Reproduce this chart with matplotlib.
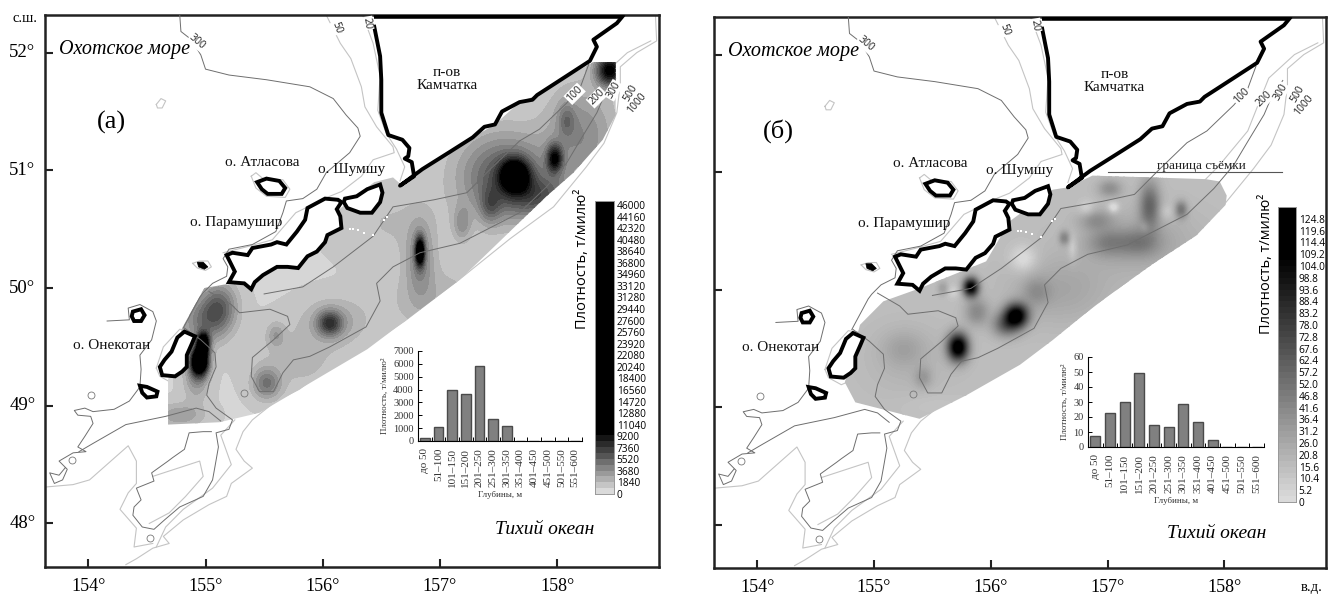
import numpy as np
import matplotlib
matplotlib.use("Agg")
import matplotlib.pyplot as plt
from matplotlib.colors import LinearSegmentedColormap
from matplotlib.patches import Polygon

W, H = 1328, 594
SERIF = "Liberation Serif"
SANS = "Open Sans"

# histograms
depth_bins = ["до 50", "51–100", "101–150", "151–200", "201–250", "251–300",
              "301–350", "351–400", "401–450", "451–500", "501–550", "551–600"]
density_a = [250, 1080, 4000, 3620, 5800, 1700, 1200, 0, 0, 0, 0, 0]
density_b = [7.3, 23, 30, 49.5, 15, 13.5, 28.7, 16.5, 4.5, 0, 0, 0]

# colour bar labels
levels_a = [0, 1840, 3680, 5520, 7360, 9200, 11040, 12880, 14720, 16560, 18400, 20240, 22080,
            23920, 25760, 27600, 29440, 31280, 33120, 34960, 36800, 38640, 40480, 42320, 44160, 46000]
levels_b = ["0", "5.2", "10.4", "15.6", "20.8", "26.0", "31.2", "36.4", "41.6", "46.8", "52.0", "57.2",
            "62.4", "67.6", "72.8", "78.0", "83.2", "88.4", "93.6", "98.8", "104.0", "109.2",
            "114.4", "119.6", "124.8"]

# density hot spots: lon, lat, value, spread lon, spread lat
spots_a = [
    (157.64, 50.96, 9500, 0.08, 0.09), (157.55, 50.95, 5000, 0.26, 0.24),
    (157.98, 51.10, 7000, 0.045, 0.08), (157.85, 50.78, 3500, 0.22, 0.12),
    (158.45, 51.85, 9000, 0.08, 0.09), (158.08, 51.43, 2200, 0.05, 0.10),
    (158.20, 51.30, 2800, 0.20, 0.28), (156.83, 50.31, 10000, 0.025, 0.08),
    (156.83, 50.25, 2800, 0.08, 0.22), (156.06, 49.70, 5000, 0.07, 0.07),
    (156.10, 49.72, 1800, 0.18, 0.13), (154.95, 49.38, 14000, 0.05, 0.08),
    (154.98, 49.53, 11000, 0.035, 0.06), (154.92, 49.25, 2500, 0.07, 0.14),
    (155.12, 49.84, 4000, 0.10, 0.14), (154.98, 49.72, 3200, 0.13, 0.14),
    (155.52, 49.19, 3500, 0.08, 0.09), (155.60, 49.60, 1800, 0.05, 0.07),
    (157.43, 50.69, 2500, 0.06, 0.10), (157.19, 50.55, 2200, 0.05, 0.10),
    (156.60, 50.55, 800, 0.30, 0.20), (154.78, 48.92, 2000, 0.14, 0.07),
    (155.80, 49.40, 1000, 0.25, 0.20), (156.95, 49.90, 1200, 0.30, 0.20),
]
base_a = 650
spots_b = [
    (155.72, 49.51, 105, 0.06, 0.08), (156.22, 49.78, 95, 0.07, 0.07), (155.83, 50.02, 95, 0.045, 0.055),
    (157.36, 50.72, 40, 0.06, 0.14), (157.63, 50.68, 32, 0.035, 0.05), (156.63, 50.44, 25, 0.03, 0.04),
    (156.13, 49.70, 40, 0.08, 0.07), (155.88, 49.81, 25, 0.07, 0.08), (157.02, 50.86, 22, 0.07, 0.05),
    (156.90, 50.59, 20, 0.10, 0.06), (157.00, 50.40, 22, 0.12, 0.08), (157.27, 50.40, 22, 0.12, 0.08),
    (155.59, 50.01, 15, 0.03, 0.04), (155.25, 49.50, 10, 0.12, 0.10), (155.42, 49.25, 15, 0.05, 0.06),
    (156.39, 49.98, 16, 0.08, 0.08), (157.05, 50.70, -22, 0.035, 0.035), (156.28, 50.26, -18, 0.08, 0.08),
    (156.82, 50.69, -12, 0.05, 0.05), (156.70, 50.35, -12, 0.03, 0.08), (157.50, 50.66, -10, 0.05, 0.05),
    (157.32, 50.53, -10, 0.03, 0.04), (155.68, 49.98, -10, 0.04, 0.04), (155.50, 49.02, -3, 0.20, 0.08),
    (157.30, 50.40, 12, 0.35, 0.20), (156.60, 50.00, 12, 0.30, 0.20), (155.30, 49.40, 6, 0.25, 0.20),
]
base_b = 14

# survey outlines
survey_lon_a = [158.31, 157.97, 157.83, 157.68, 157.47, 157.28, 157.09, 156.85, 156.68, 156.60, 156.44, 156.19,
                155.38, 155.16, 154.99, 154.80, 154.68, 154.68, 155.12, 155.46, 156.38, 157.17, 157.91, 158.14,
                158.39, 158.50, 158.50]
survey_lat_a = [51.92, 51.73, 51.64, 51.58, 51.39, 51.28, 51.16, 51.01, 50.87, 50.94, 50.90, 50.71,
                50.03, 50.03, 50.00, 49.66, 49.22, 48.84, 48.86, 48.94, 49.48, 50.07, 50.78, 50.98,
                51.26, 51.47, 51.92]
survey_lon_b = [156.87, 157.84, 157.96, 158.02, 158.01, 157.76, 157.39, 156.90, 156.53, 156.25, 155.79, 155.39,
                154.84, 154.75, 154.88, 155.08, 155.39, 155.96, 156.16, 156.53, 156.66]
survey_lat_b = [50.97, 50.94, 50.92, 50.80, 50.72, 50.46, 50.22, 49.87, 49.57, 49.36, 49.10, 48.90,
                49.04, 49.21, 49.70, 49.90, 50.01, 50.24, 50.58, 50.85, 50.87]

# land
kamchatka_lon = [156.44, 156.49, 156.50, 156.50, 156.56, 156.68, 156.74, 156.73, 156.70, 156.76, 156.78, 156.66,
                 156.85, 157.09, 157.28, 157.38, 157.47, 157.53, 157.68, 157.79, 157.83, 157.97, 158.28, 158.34,
                 158.31, 158.51, 158.56]
kamchatka_lat = [52.22, 51.97, 51.77, 51.49, 51.30, 51.26, 51.19, 51.12, 51.10, 51.07, 50.95, 50.87,
                 51.01, 51.16, 51.28, 51.37, 51.39, 51.50, 51.58, 51.60, 51.64, 51.73, 51.93, 52.05,
                 52.11, 52.25, 52.31]
paramushir_lon = [155.18, 155.23, 155.36, 155.40, 155.56, 155.61, 155.69, 155.78, 155.85, 155.87, 156.02, 156.13,
                  156.16, 156.12, 156.15, 156.16, 156.04, 156.02, 155.95, 155.87, 155.79, 155.70, 155.61, 155.49,
                  155.42, 155.39, 155.33, 155.20, 155.25, 155.21]
paramushir_lat = [50.28, 50.30, 50.28, 50.34, 50.37, 50.39, 50.37, 50.48, 50.58, 50.68, 50.76, 50.75,
                  50.73, 50.67, 50.61, 50.51, 50.45, 50.39, 50.31, 50.27, 50.17, 50.18, 50.18, 50.11,
                  50.05, 49.99, 50.04, 50.05, 50.14, 50.22]
shumshu_lon = [156.19, 156.29, 156.38, 156.49, 156.51, 156.49, 156.42, 156.32, 156.21, 156.18]
shumshu_lat = [50.76, 50.78, 50.84, 50.88, 50.81, 50.73, 50.64, 50.64, 50.68, 50.73]
atlasova_lon = [155.44, 155.52, 155.63, 155.68, 155.65, 155.53, 155.48]
atlasova_lat = [50.90, 50.93, 50.91, 50.85, 50.80, 50.80, 50.84]
onekotan_lon = [154.82, 154.91, 154.88, 154.84, 154.84, 154.80, 154.74, 154.63, 154.61, 154.65, 154.71, 154.76]
onekotan_lat = [49.63, 49.59, 49.52, 49.43, 49.33, 49.29, 49.25, 49.26, 49.33, 49.39, 49.46, 49.58]
north_isle_lon = [154.38, 154.45, 154.48, 154.45, 154.39, 154.37]
north_isle_lat = [49.80, 49.82, 49.77, 49.72, 49.72, 49.76]
south_isle_lon = [154.44, 154.50, 154.59, 154.58, 154.50, 154.46]
south_isle_lat = [49.17, 49.16, 49.12, 49.08, 49.07, 49.11]
tiny_isle_lon = [154.93, 154.98, 155.02, 154.99, 154.94]
tiny_isle_lat = [50.22, 50.22, 50.18, 50.16, 50.18]
speck_lon = [156.23, 156.26, 156.30, 156.43, 156.52, 156.55, 156.35]
speck_lat = [50.50, 50.50, 50.49, 50.45, 50.58, 50.60, 50.47]

# depth contours, dark ones
dark_lines = [
    ([154.78, 154.79, 154.88, 154.96, 155.00, 155.20, 155.52, 155.89, 156.09, 156.20, 156.30, 156.32, 156.23, 156.03,
      155.95, 155.83, 155.69, 155.66, 155.60, 155.40, 155.20, 155.15, 155.19, 155.18, 155.06, 154.98, 154.95, 154.81],
     [52.32, 52.18, 52.11, 51.98, 51.86, 51.81, 51.77, 51.71, 51.61, 51.47, 51.36, 51.29, 51.15, 50.98,
      50.84, 50.76, 50.74, 50.64, 50.48, 50.37, 50.33, 50.25, 50.18, 50.10, 50.04, 49.96, 49.92, 49.66]),
    ([154.16, 154.35, 154.34, 154.44, 154.55, 154.58, 154.54, 154.44, 154.45, 154.44, 154.35, 154.22, 154.04, 153.97,
      153.88, 153.91, 154.02, 154.04, 153.97, 153.91, 153.98, 153.87, 153.75, 153.82, 153.78, 153.71, 153.67, 153.75, 153.80],
     [49.72, 49.73, 49.83, 49.86, 49.80, 49.72, 49.56, 49.43, 49.31, 49.16, 49.04, 48.97, 48.95, 48.98,
      48.96, 48.92, 48.91, 48.85, 48.74, 48.65, 48.61, 48.60, 48.53, 48.46, 48.37, 48.34, 48.43, 48.41, 48.47]),
    ([154.82, 154.96, 155.08, 155.09, 155.03, 155.01, 155.09, 155.23, 155.20, 155.09, 155.11, 155.08, 155.06, 154.98,
      154.78, 154.65, 154.56, 154.46, 154.38, 154.39, 154.45, 154.41, 154.56, 154.54, 154.68, 154.72, 154.82, 154.86, 154.98, 155.05],
     [49.66, 49.56, 49.45, 49.33, 49.19, 49.09, 48.98, 48.88, 48.80, 48.77, 48.65, 48.48, 48.37, 48.23,
      48.14, 48.03, 47.95, 47.97, 48.07, 48.14, 48.20, 48.30, 48.36, 48.43, 48.53, 48.56, 48.63, 48.77, 48.78, 48.78]),
    ([153.92, 154.04, 154.32, 154.66, 154.92, 155.03, 155.13],
     [48.61, 48.68, 48.84, 48.91, 48.98, 48.95, 48.87]),
    ([158.50, 158.40, 158.34, 158.20, 158.08, 157.91, 157.68, 157.17, 156.83, 156.60, 156.46, 156.49, 156.37, 156.06, 155.89,
      155.75, 155.66, 155.58, 155.46, 155.39, 155.40, 155.58, 155.72, 155.70, 155.55, 155.29, 155.22, 155.03],
     [51.78, 51.63, 51.49, 51.26, 51.06, 50.86, 50.64, 50.38, 50.30, 50.18, 50.04, 49.89, 49.67, 49.50, 49.42,
      49.39, 49.28, 49.12, 49.12, 49.25, 49.41, 49.56, 49.69, 49.76, 49.82, 49.79, 49.86, 49.97]),
    ([158.27, 158.20, 158.08, 157.85, 157.68, 157.43, 157.23, 156.95, 156.60, 156.43, 156.09, 155.83, 155.50],
     [51.90, 51.71, 51.57, 51.35, 51.25, 51.01, 50.81, 50.75, 50.69, 50.44, 50.18, 50.01, 49.95]),
]
# depth contours, light ones
light_lines = [
    ([158.84, 158.85, 158.68, 158.54, 158.54, 158.51, 158.40, 158.25, 158.11, 157.97, 157.60, 157.20, 156.70, 156.30,
      155.95, 155.80, 155.60, 155.40, 155.32, 155.26, 155.33, 155.40, 155.22, 155.18, 155.03, 154.81, 154.64, 154.69, 154.55, 154.41, 154.32],
     [52.31, 52.10, 52.00, 51.88, 51.74, 51.49, 51.23, 51.03, 50.86, 50.69, 50.42, 50.10, 49.72, 49.45,
      49.25, 49.14, 49.04, 48.88, 48.78, 48.63, 48.53, 48.47, 48.34, 48.23, 48.16, 48.03, 47.89, 47.83, 47.79, 47.70, 47.65]),
    ([158.80, 158.60, 158.38, 158.30, 158.20, 157.95, 157.60, 157.30],
     [52.10, 52.00, 51.80, 51.60, 51.35, 51.05, 50.70, 50.45]),
    ([153.64, 153.87, 154.01, 154.34, 154.41, 154.41, 154.34, 154.27, 154.41, 154.39, 154.55],
     [48.31, 48.33, 48.37, 48.66, 48.53, 48.34, 48.26, 48.12, 47.96, 47.80, 47.83]),
    ([154.55, 154.95, 154.98, 154.83, 154.69, 154.52],
     [48.40, 48.53, 48.40, 48.23, 48.09, 48.00]),
    ([155.25, 155.13, 155.22, 155.06, 154.81, 154.66, 154.58],
     [48.88, 48.75, 48.50, 48.30, 48.12, 47.97, 47.80]),
    ([156.03, 156.15, 156.24, 156.33, 156.36, 156.46, 156.60, 156.61, 156.43, 156.33, 156.16, 156.06, 155.77, 155.57, 155.35, 155.15],
     [52.32, 52.08, 51.95, 51.71, 51.54, 51.37, 51.20, 51.15, 51.09, 50.95, 50.82, 50.78, 50.64, 50.41, 50.35, 50.30]),
    ([156.34, 156.43, 156.49, 156.47, 156.54, 156.63, 156.70, 156.66],
     [52.32, 52.08, 51.80, 51.51, 51.32, 51.18, 51.03, 50.91]),
    ([155.39, 155.43, 155.49, 155.66, 155.72, 155.68, 155.52, 155.43, 155.39],
     [50.95, 50.98, 50.93, 50.92, 50.84, 50.77, 50.78, 50.85, 50.95]),
    ([154.89, 154.95, 155.02, 155.05, 155.00, 154.93, 154.89],
     [50.21, 50.23, 50.23, 50.18, 50.15, 50.17, 50.21]),
    ([154.58, 154.62, 154.66, 154.63, 154.59, 154.58],
     [51.56, 51.61, 51.59, 51.53, 51.53, 51.56]),
    ([154.58, 154.64, 154.78, 154.92, 154.92, 154.86, 154.72, 154.61, 154.58],
     [49.32, 49.50, 49.65, 49.63, 49.45, 49.25, 49.19, 49.25, 49.32]),
]
ring_lon = [154.02, 153.86, 155.33, 154.53]
ring_lat = [49.09, 48.54, 49.11, 47.88]

# contour labels: text, lon, lat, angle
depth_labels = [("300", 154.93, 52.09, -40), ("50", 156.12, 52.21, -70), ("20", 156.38, 52.25, -80),
                ("100", 158.15, 51.65, 45), ("200", 158.34, 51.62, 45), ("300", 158.48, 51.68, 60),
                ("500", 158.63, 51.66, 60), ("1000", 158.68, 51.57, 50)]
place_labels = [("о. Атласова", 155.48, 51.07), ("о. Шумшу", 156.25, 51.01),
                ("о. Парамушир", 155.26, 50.56), ("о. Онекотан", 154.20, 49.51),
                ("п-ов\nКамчатка", 157.06, 51.775)]


def px_axes(fig, left, top, right, bottom):
    return fig.add_axes([left / W, 1 - bottom / H, (right - left) / W, (bottom - top) / H])


def make_field(lon, lat, spots, base):
    field = np.full(lon.shape, float(base))
    for x0, y0, val, sx, sy in spots:
        field += val * np.exp(-((lon - x0) / sx) ** 2 / 2 - ((lat - y0) / sy) ** 2 / 2)
    return np.clip(field, 0, None)


def draw_map(ax, spots, base, survey_lon, survey_lat, levels, cmap, vmax, tag, tag_pos, ocean_pos):
    grid_lon, grid_lat = np.meshgrid(np.linspace(154.5, 158.7, 500), np.linspace(48.7, 52.1, 420))
    field = make_field(grid_lon, grid_lat, spots, base)
    cs = ax.contourf(grid_lon, grid_lat, field, levels=levels, cmap=cmap, vmin=0, vmax=vmax, extend="max", zorder=2)
    clip = Polygon(np.column_stack([survey_lon, survey_lat]), closed=True, transform=ax.transData, fc="none", ec="none")
    ax.add_patch(clip)
    cs.set_clip_path(clip)

    for xs, ys in light_lines:
        ax.plot(xs, ys, color="#c4c4c4", lw=0.8, zorder=1)
    for xs, ys in dark_lines:
        ax.plot(xs, ys, color="#6e6e6e", lw=0.7, zorder=3)
    ax.plot(ring_lon, ring_lat, "o", ms=5, mfc="none", mec="#777777", mew=0.6, zorder=3)
    ax.plot(speck_lon, speck_lat, "s", ms=1.6, color="white", mew=0, zorder=4)

    for xs, ys in [(paramushir_lon, paramushir_lat), (shumshu_lon, shumshu_lat), (atlasova_lon, atlasova_lat),
                   (onekotan_lon, onekotan_lat), (north_isle_lon, north_isle_lat), (south_isle_lon, south_isle_lat)]:
        ax.fill(xs, ys, fc="white", ec="black", lw=2.8, zorder=5)
    ax.fill(tiny_isle_lon, tiny_isle_lat, fc="black", ec="black", lw=0.5, zorder=5)
    ax.plot(kamchatka_lon, kamchatka_lat, color="black", lw=2.8, zorder=5)
    ax.plot([kamchatka_lon[-1], kamchatka_lon[0]], [52.315, 52.315], color="black", lw=4, zorder=5,
            solid_capstyle="butt")

    for txt, x, y, ang in depth_labels:
        ax.text(x, y, txt, fontsize=7.5, family=SANS, rotation=ang, ha="center", va="center", color="#222222", zorder=6,
                bbox=dict(fc="white", ec="none", pad=0.5))
    for txt, x, y in place_labels:
        ax.text(x, y, txt, fontsize=11, family=SERIF, ha="center", va="center", color="#111111", zorder=6,
                linespacing=1.0)
    ax.text(154.31, 52.03, "Охотское море", fontsize=14.5, family=SERIF, style="italic", ha="center", va="center", zorder=6)
    ax.text(ocean_pos[0], ocean_pos[1], "Тихий океан", fontsize=14, family=SERIF, style="italic", ha="center", va="center", zorder=6)
    ax.text(tag_pos[0], tag_pos[1], tag, fontsize=19, family=SERIF, ha="center", va="center", zorder=6)

    ax.set_xlim(153.63, 158.87)
    ax.set_ylim(47.63, 52.32)
    ax.set_xticks([154, 155, 156, 157, 158])
    ax.set_yticks([48, 49, 50, 51, 52])
    ax.tick_params(direction="in", length=6, width=1.5, color="#222222", labelbottom=False, labelleft=False)
    for s in ax.spines.values():
        s.set_linewidth(1.8)
        s.set_color("#222222")


def draw_hist(ax, values, ymax, ystep):
    ax.bar(range(12), values, width=0.7, color="#808080", edgecolor="#4a4a4a", linewidth=1)
    ax.set_xlim(-0.5, 11.5)
    ax.set_ylim(0, ymax)
    ax.set_yticks(np.arange(0, ymax + 1, ystep))
    ax.set_xticks(range(12))
    ax.set_xticklabels(depth_bins, rotation=90, fontsize=8, family=SERIF, color="#333333")
    ax.set_xticks(np.arange(-0.5, 12), minor=True)
    ax.tick_params(axis="x", which="major", length=0, pad=5)
    ax.tick_params(axis="x", which="minor", direction="in", length=3, width=0.7)
    ax.tick_params(axis="y", direction="in", length=3, width=0.7, labelsize=7.5, pad=3, labelcolor="#333333")
    for lab in ax.get_yticklabels():
        lab.set_family(SERIF)
    ax.patch.set_alpha(0)
    ax.spines["top"].set_visible(False)
    ax.spines["right"].set_visible(False)
    ax.set_xlabel("Глубины, м", fontsize=6.5, family=SERIF, labelpad=3, color="#333333")
    ax.set_ylabel("Плотность, т/милю²", fontsize=6.5, family=SERIF, labelpad=3, color="#333333")


def draw_bar(ax, cmap, vmax, top, steps):
    edges = np.linspace(0, top, steps + 1)
    ax.pcolormesh([0, 1], edges, np.array(edges[:-1]).reshape(-1, 1), cmap=cmap, vmin=0, vmax=vmax)
    ax.set_xticks([])
    for s in ax.spines.values():
        s.set_linewidth(0.7)
        s.set_color("#999999")
    ax.yaxis.tick_right()
    ax.tick_params(axis="y", length=0, pad=2, labelsize=7.3)
    for lab in ax.get_yticklabels():
        lab.set_family(SANS)


fig = plt.figure(figsize=(W / 100, H / 100), dpi=100, facecolor="white")

cmap_a = LinearSegmentedColormap.from_list("a", [(0, "#dadada"), (0.2, "#000000"), (1, "#000000")])
cmap_b = LinearSegmentedColormap.from_list("b", [(0, "#dadada"), (0.85, "#000000"), (1, "#000000")])

ax_a = px_axes(fig, 45, 15, 659, 567)
# band colours span 0..9200 on panel a, everything above is black
draw_map(ax_a, spots_a, base_a, survey_lon_a, survey_lat_a, np.arange(0, 9201, 700), cmap_a, 46000,
         "(а)", (154.20, 51.41), (157.89, 47.95))
ax_b = px_axes(fig, 714, 17, 1326, 568)
draw_map(ax_b, spots_b, base_b, survey_lon_b, survey_lat_b, np.linspace(0, 110, 90), cmap_b, 125,
         "(б)", (154.18, 51.35), (157.93, 47.92))
ax_b.plot([157.0, 158.49], [51.0, 51.0], color="#555555", lw=0.8, zorder=6)
ax_b.text(157.80, 51.055, "граница съёмки", fontsize=9.5, family=SERIF, ha="center", va="center", color="#222222", zorder=6)

# tick labels sit further out than the in-pointing ticks
for ax in [ax_a, ax_b]:
    for lon in ax.get_xticks():
        ax.annotate(f"{lon:.0f}°", (lon, 0), xycoords=("data", "axes fraction"), xytext=(0, -14), textcoords="offset points",
                    ha="center", va="center", fontsize=13, family=SERIF, annotation_clip=False)
for lat in ax_a.get_yticks():
    ax_a.annotate(f"{lat:.0f}°", (0, lat), xycoords=("axes fraction", "data"), xytext=(-7, 0), textcoords="offset points",
                  ha="right", va="center", fontsize=13.5, family=SERIF, annotation_clip=False)
fig.text(25 / W, 1 - 18 / H, "с.ш.", fontsize=10.5, family=SERIF, ha="center", va="center")
fig.text(1312 / W, 1 - 588 / H, "в.д.", fontsize=10.5, family=SERIF, ha="center", va="center")

hist_a = px_axes(fig, 418, 351, 582, 441)
draw_hist(hist_a, density_a, 7000, 1000)
hist_b = px_axes(fig, 1088, 357, 1264, 447)
draw_hist(hist_b, density_b, 60, 10)

bar_a = px_axes(fig, 595, 201, 614, 494)
draw_bar(bar_a, cmap_a, 46000, 46640, 50)
bar_a.set_ylim(0, 46640)
bar_a.set_yticks(levels_a)
bar_a.set_yticklabels([str(v) for v in levels_a])
bar_b = px_axes(fig, 1278, 207, 1296, 502)
draw_bar(bar_b, cmap_b, 125, 130, 50)
bar_b.set_ylim(0, 130)
bar_b.set_yticks(np.arange(25) * 5.2)
bar_b.set_yticklabels(levels_b)

fig.text(583 / W, 1 - 259 / H, "Плотность, т/милю²", rotation=90, fontsize=10.5, family=SANS, ha="center", va="center")
fig.text(1267 / W, 1 - 264 / H, "Плотность, т/милю²", rotation=90, fontsize=10.5, family=SANS, ha="center", va="center")

fig.savefig("out.png", dpi=100)
